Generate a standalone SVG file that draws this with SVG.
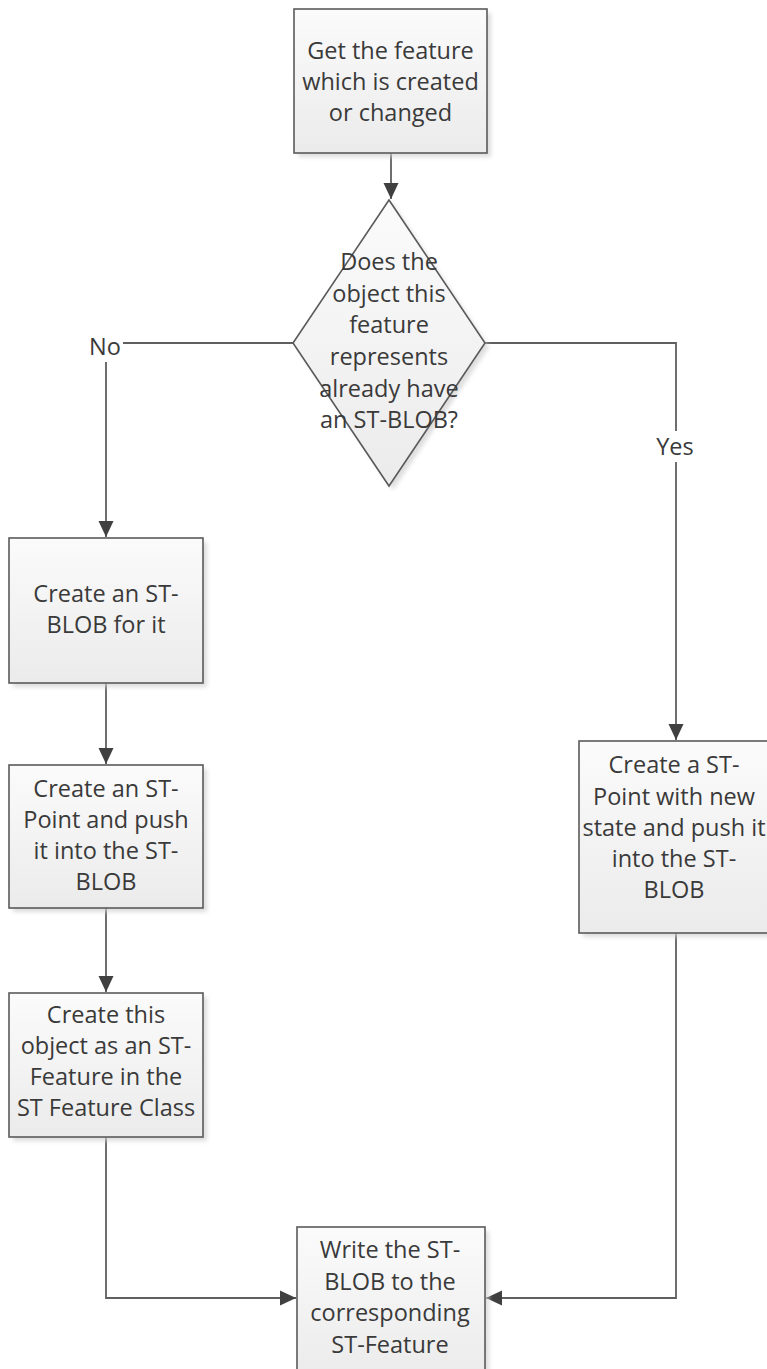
<svg xmlns="http://www.w3.org/2000/svg" width="767" height="1369" viewBox="0 0 767 1369">
  <defs>
    <linearGradient id="fillGrad" x1="0" y1="0" x2="0" y2="1">
      <stop offset="0" stop-color="#fbfbfb"/>
      <stop offset="1" stop-color="#ebebeb"/>
    </linearGradient>
    <filter id="shadow" x="-10%" y="-10%" width="130%" height="130%">
      <feGaussianBlur stdDeviation="2"/>
    </filter>
    <marker id="arrow" markerUnits="userSpaceOnUse" markerWidth="18" markerHeight="18" viewBox="0 0 18 18" refX="17" refY="9" orient="auto">
      <path d="M1,1.5 L17,9 L1,16.5 Z" fill="#404040"/>
    </marker>
    <style>
      .box { fill: url(#fillGrad); stroke: #5a5a5a; stroke-width: 1.6; }
      .shade { fill: #cfcfcf; filter: url(#shadow); opacity: 0.7; }
      .edge { fill: none; stroke: #5f5f5f; stroke-width: 1.8; }
      .label { font-family: "Open Sans", "Noto Sans", "Liberation Sans", sans-serif; font-size: 23.5px; fill: #3a3a3a; text-anchor: middle; }
      .bg { fill: #ffffff; }
    </style>
  </defs>

  <rect width="767" height="1369" fill="#ffffff"/>

  <!-- connectors -->
  <g id="connectors">
    <path class="edge" d="M391,153 V199" marker-end="url(#arrow)"/>
    <path class="edge" d="M293,343 H106 V537" marker-end="url(#arrow)"/>
    <path class="edge" d="M485,343 H676 V740" marker-end="url(#arrow)"/>
    <path class="edge" d="M106,683 V764" marker-end="url(#arrow)"/>
    <path class="edge" d="M106,908 V992" marker-end="url(#arrow)"/>
    <path class="edge" d="M106,1137 V1298 H296" marker-end="url(#arrow)"/>
    <path class="edge" d="M676,933 V1298 H486" marker-end="url(#arrow)"/>
    <g id="label-no">
      <rect class="bg" x="86" y="332" width="37" height="30"/>
      <text class="label" x="105" y="355">No</text>
    </g>
    <g id="label-yes">
      <rect class="bg" x="652" y="431" width="48" height="31"/>
      <text class="label" x="675" y="455">Yes</text>
    </g>
  </g>

  <g id="get-feature">
    <rect class="shade" x="298" y="13" width="193" height="144"/>
    <rect class="box" x="294" y="9" width="193" height="144"/>
    <text class="label" x="390.5" y="59">Get the feature</text>
    <text class="label" x="390.5" y="90">which is created</text>
    <text class="label" x="390.5" y="121">or changed</text>
  </g>

  <g id="has-blob">
    <path class="shade" d="M393,204 L489,347 L393,490 L297,347 Z"/>
    <path class="box" d="M389,200 L485,343 L389,486 L293,343 Z"/>
    <text class="label" x="389" y="270">Does the</text>
    <text class="label" x="389" y="302">object this</text>
    <text class="label" x="389" y="333">feature</text>
    <text class="label" x="389" y="365">represents</text>
    <text class="label" x="389" y="397">already have</text>
    <text class="label" x="389" y="428">an ST-BLOB?</text>
  </g>

  <g id="create-blob">
    <rect class="shade" x="13" y="542" width="194" height="145"/>
    <rect class="box" x="9" y="538" width="194" height="145"/>
    <text class="label" x="106" y="602">Create an ST-</text>
    <text class="label" x="106" y="633">BLOB for it</text>
  </g>

  <g id="create-point">
    <rect class="shade" x="13" y="769" width="194" height="143"/>
    <rect class="box" x="9" y="765" width="194" height="143"/>
    <text class="label" x="106" y="797">Create an ST-</text>
    <text class="label" x="106" y="828">Point and push</text>
    <text class="label" x="106" y="859">it into the ST-</text>
    <text class="label" x="106" y="890">BLOB</text>
  </g>

  <g id="create-feature">
    <rect class="shade" x="13" y="997" width="194" height="144"/>
    <rect class="box" x="9" y="993" width="194" height="144"/>
    <text class="label" x="106" y="1023">Create this</text>
    <text class="label" x="106" y="1054">object as an ST-</text>
    <text class="label" x="106" y="1085">Feature in the</text>
    <text class="label" x="106" y="1116">ST Feature Class</text>
  </g>

  <g id="push-state">
    <rect class="shade" x="583" y="745" width="194" height="192"/>
    <rect class="box" x="579" y="741" width="194" height="192"/>
    <text class="label" x="674" y="773">Create a ST-</text>
    <text class="label" x="674" y="805">Point with new</text>
    <text class="label" x="674" y="836">state and push it</text>
    <text class="label" x="674" y="867">into the ST-</text>
    <text class="label" x="674" y="898">BLOB</text>
  </g>

  <g id="write-blob">
    <rect class="shade" x="301" y="1231" width="188" height="150"/>
    <rect class="box" x="297" y="1227" width="188" height="150"/>
    <text class="label" x="390" y="1258">Write the ST-</text>
    <text class="label" x="390" y="1290">BLOB to the</text>
    <text class="label" x="390" y="1321">corresponding</text>
    <text class="label" x="390" y="1353">ST-Feature</text>
  </g>
</svg>
